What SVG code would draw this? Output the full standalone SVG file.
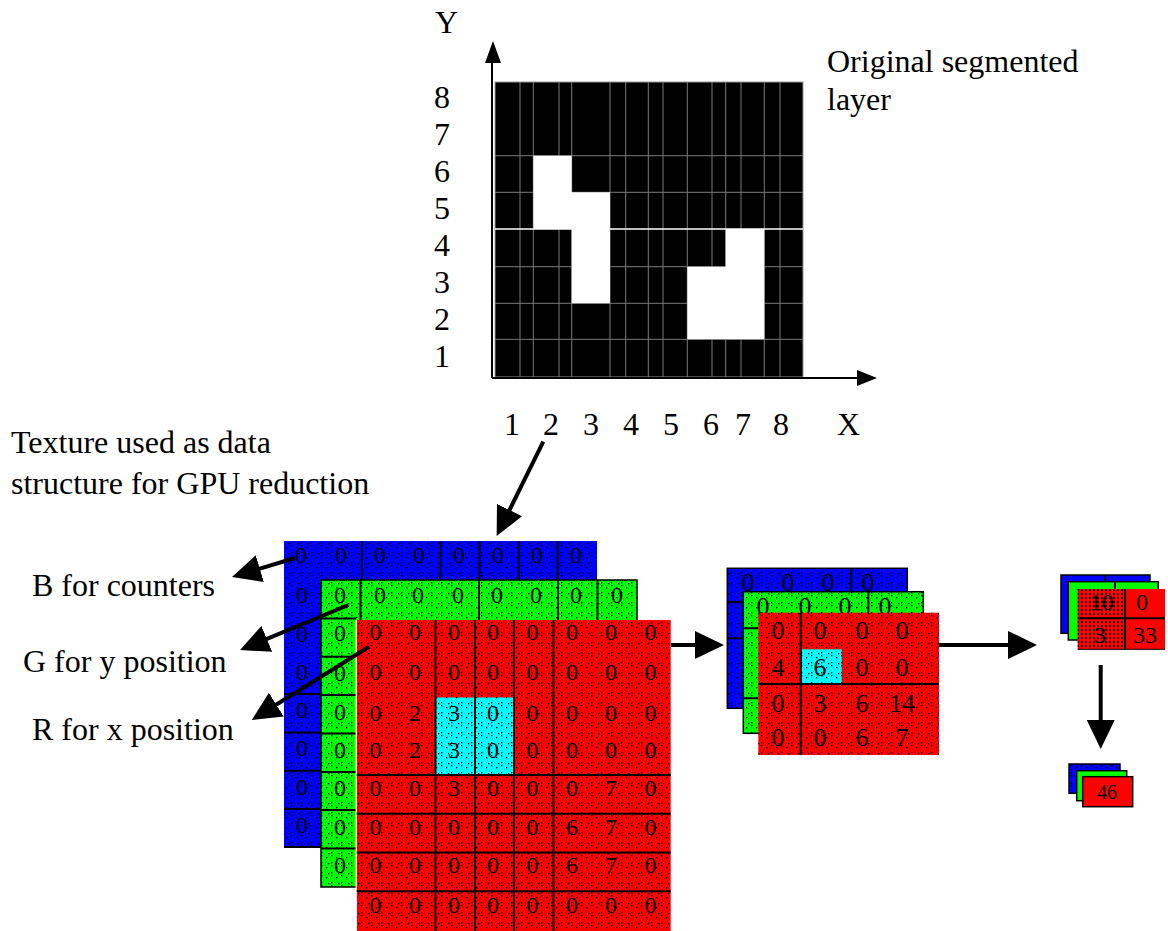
<svg xmlns="http://www.w3.org/2000/svg" width="1168" height="931" viewBox="0 0 1168 931">
<style>
.lbl{font-family:"Liberation Serif","Times New Roman",serif;font-size:32px;fill:#000}
.num{font-family:"Liberation Serif","Times New Roman",serif;font-size:24px;fill:#000;text-anchor:middle}
.numm{font-family:"Liberation Serif","Times New Roman",serif;font-size:26px;fill:#000;text-anchor:middle}
.nums{font-family:"Liberation Serif","Times New Roman",serif;font-size:20px;fill:#000;text-anchor:middle}
.gl{stroke:#7a7a7a;stroke-width:1;fill:none}
.grid{stroke:#000;stroke-width:2;fill:none}
.edge{stroke:#000;stroke-width:1.5}
.conn{stroke:#000;stroke-width:4;fill:none;marker-end:url(#ah)}
.axis{stroke:#000;stroke-width:2;fill:none}
.B{fill:#0000ff}.G{fill:#00ff00}.R{fill:#ff0000}.C{fill:#00ffff}
.tex{fill:url(#dots)}
</style>
<defs>
<pattern id="dots" width="10" height="10" patternUnits="userSpaceOnUse">
<rect x="1" y="2" width="1.3" height="1.3" fill="#000"/>
<rect x="1" y="5" width="1.3" height="1.3" fill="#000"/>
<rect x="6" y="7" width="1.3" height="1.3" fill="#000"/>
<rect x="8" y="3" width="1.3" height="1.3" fill="#000"/>
</pattern>
<pattern id="dense" width="4" height="4" patternUnits="userSpaceOnUse">
<rect x="1" y="1" width="2" height="2" fill="#000" opacity="0.8"/>
</pattern>
<marker id="ah" markerUnits="userSpaceOnUse" markerWidth="30" markerHeight="28" refX="5" refY="14" orient="auto">
<path d="M0,0 L29,14 L0,28 Z" fill="#000"/>
</marker>
</defs>
<rect width="1168" height="931" fill="#fff"/>

<g id="segmented-layer">
<rect x="495" y="82" width="308" height="295" fill="#000" stroke="#999" stroke-width="1"/>
<path class="gl" d="M520,82V377M533.3,82V377M559,82V377M571.7,82V377M610,82V377M625.7,82V377M648.3,82V377M663,82V377M687.3,82V377M712,82V377M725.7,82V377M741,82V377M764.3,82V377M780,82V377"/>
<path class="gl" d="M495,155.7H803M495,192.3H803M495,266.7H803M495,303.3H803M495,339.3H803"/>
<path d="M495,229H803" stroke="#fff" stroke-width="1.5"/>
<path d="M533.3,155.7H571.7V192.3H610V303.3H571.7V229H533.3Z" fill="#fff"/>
<path d="M725.7,229H764.3V339.3H687.3V266.7H725.7Z" fill="#fff"/>
</g>

<g id="axes">
<path class="axis" d="M492,378V60M492,378H860"/>
<path d="M493,41L485,63L501,63Z" fill="#000"/>
<path d="M877,378L857,370L857,386Z" fill="#000"/>
<text class="lbl" x="435" y="33">Y</text>
<text class="lbl" x="434" y="108">8</text>
<text class="lbl" x="434" y="145">7</text>
<text class="lbl" x="434" y="182">6</text>
<text class="lbl" x="434" y="219">5</text>
<text class="lbl" x="434" y="256">4</text>
<text class="lbl" x="434" y="293">3</text>
<text class="lbl" x="434" y="330">2</text>
<text class="lbl" x="434" y="367">1</text>
<text class="lbl" x="504" y="435">1</text>
<text class="lbl" x="543" y="435">2</text>
<text class="lbl" x="583" y="435">3</text>
<text class="lbl" x="623" y="435">4</text>
<text class="lbl" x="663" y="435">5</text>
<text class="lbl" x="703" y="435">6</text>
<text class="lbl" x="735" y="435">7</text>
<text class="lbl" x="773" y="435">8</text>
<text class="lbl" x="837" y="435">X</text>
</g>

<g id="labels">
<text class="lbl" x="827" y="72">Original segmented</text>
<text class="lbl" x="827" y="110">layer</text>
<text class="lbl" x="11" y="453">Texture used as data</text>
<text class="lbl" x="11" y="494">structure for GPU reduction</text>
<text class="lbl" x="32" y="596">B for counters</text>
<text class="lbl" x="23" y="672">G for y position</text>
<text class="lbl" x="32" y="740">R for x position</text>
</g>

<g id="texture-8x8">
<g id="blue-8x8">
<rect class="B" x="284" y="541" width="313" height="306"/>
<rect class="tex" x="284" y="541" width="313" height="306"/>
<path class="grid" d="M362,541V580M440.4,541V580M479.5,541V580M518.6,541V580M557.7,541V580M284,694H321M284,732.5H321M284,770.8H321M284,809H321M284,847H321"/>
<text class="num" x="301" y="563">0</text><text class="num" x="341" y="563">0</text><text class="num" x="380" y="563">0</text><text class="num" x="419" y="563">0</text><text class="num" x="459" y="563">0</text><text class="num" x="498" y="563">0</text><text class="num" x="537" y="563">0</text><text class="num" x="576" y="563">0</text>
<text class="num" x="302" y="603">0</text><text class="num" x="302" y="642">0</text><text class="num" x="302" y="680">0</text><text class="num" x="302" y="718">0</text><text class="num" x="302" y="756">0</text><text class="num" x="302" y="795">0</text><text class="num" x="302" y="833">0</text>
</g>
<g id="green-8x8">
<rect class="G edge" x="321" y="580" width="316" height="307"/>
<rect class="tex" x="321" y="580" width="316" height="307"/>
<path class="grid" d="M360.5,580V620M479,580V620M558,580V620M597.5,580V620M321,618.4H356M321,656.8H356M321,695H356M321,733.6H356M321,772H356M321,810H356M321,848.6H356"/>
<text class="num" x="340" y="603">0</text><text class="num" x="380" y="603">0</text><text class="num" x="418" y="603">0</text><text class="num" x="458" y="603">0</text><text class="num" x="497" y="603">0</text><text class="num" x="536" y="603">0</text><text class="num" x="576" y="603">0</text><text class="num" x="617" y="603">0</text>
<text class="num" x="340" y="641">0</text><text class="num" x="340" y="681">0</text><text class="num" x="340" y="720">0</text><text class="num" x="340" y="758">0</text><text class="num" x="340" y="796">0</text><text class="num" x="340" y="835">0</text><text class="num" x="340" y="873">0</text>
</g>
<g id="red-8x8">
<rect class="R" x="356.7" y="620" width="314" height="311"/>
<rect class="C" x="435.5" y="697.5" width="78" height="77.5"/>
<rect class="tex" x="356.7" y="620" width="314" height="311"/>
<path d="M356.2,620V931" stroke="#fff" stroke-width="1.2"/>
<path class="grid" d="M435.5,620V931M475,620V931M514,620V931M553.5,620V931M356.7,775H670.7M356.7,813.7H670.7M356.7,852.5H670.7M356.7,891.3H670.7"/>
<text class="num" x="375.5" y="640">0</text><text class="num" x="415" y="640">0</text><text class="num" x="454" y="640">0</text><text class="num" x="493" y="640">0</text><text class="num" x="532.5" y="640">0</text><text class="num" x="572" y="640">0</text><text class="num" x="611" y="640">0</text><text class="num" x="650.5" y="640">0</text>
<text class="num" x="375.5" y="680">0</text><text class="num" x="415" y="680">0</text><text class="num" x="454" y="680">0</text><text class="num" x="493" y="680">0</text><text class="num" x="532.5" y="680">0</text><text class="num" x="572" y="680">0</text><text class="num" x="611" y="680">0</text><text class="num" x="650.5" y="680">0</text>
<text class="num" x="375.5" y="721">0</text><text class="num" x="415" y="721">2</text><text class="num" x="454" y="721">3</text><text class="num" x="493" y="721">0</text><text class="num" x="532.5" y="721">0</text><text class="num" x="572" y="721">0</text><text class="num" x="611" y="721">0</text><text class="num" x="650.5" y="721">0</text>
<text class="num" x="375.5" y="758">0</text><text class="num" x="415" y="758">2</text><text class="num" x="454" y="758">3</text><text class="num" x="493" y="758">0</text><text class="num" x="532.5" y="758">0</text><text class="num" x="572" y="758">0</text><text class="num" x="611" y="758">0</text><text class="num" x="650.5" y="758">0</text>
<text class="num" x="375.5" y="796">0</text><text class="num" x="415" y="796">0</text><text class="num" x="454" y="796">3</text><text class="num" x="493" y="796">0</text><text class="num" x="532.5" y="796">0</text><text class="num" x="572" y="796">0</text><text class="num" x="611" y="796">7</text><text class="num" x="650.5" y="796">0</text>
<text class="num" x="375.5" y="835">0</text><text class="num" x="415" y="835">0</text><text class="num" x="454" y="835">0</text><text class="num" x="493" y="835">0</text><text class="num" x="532.5" y="835">0</text><text class="num" x="572" y="835">6</text><text class="num" x="611" y="835">7</text><text class="num" x="650.5" y="835">0</text>
<text class="num" x="375.5" y="873">0</text><text class="num" x="415" y="873">0</text><text class="num" x="454" y="873">0</text><text class="num" x="493" y="873">0</text><text class="num" x="532.5" y="873">0</text><text class="num" x="572" y="873">6</text><text class="num" x="611" y="873">7</text><text class="num" x="650.5" y="873">0</text>
<text class="num" x="375.5" y="913">0</text><text class="num" x="415" y="913">0</text><text class="num" x="454" y="913">0</text><text class="num" x="493" y="913">0</text><text class="num" x="532.5" y="913">0</text><text class="num" x="572" y="913">0</text><text class="num" x="611" y="913">0</text><text class="num" x="650.5" y="913">0</text>
</g>
</g>

<g id="texture-4x4">
<g id="blue-4x4">
<rect class="B edge" x="727.3" y="568.3" width="180" height="140"/>
<rect class="tex" x="727.3" y="568.3" width="180" height="140"/>
<path class="grid" d="M851,568.3V592M727.3,602H743.3M727.3,638.3H743.3"/>
<text class="numm" x="748" y="591">0</text><text class="numm" x="788" y="591">0</text><text class="numm" x="828" y="591">0</text><text class="numm" x="868" y="591">0</text>
</g>
<g id="green-4x4">
<rect class="G edge" x="743.3" y="591.7" width="180" height="141.6"/>
<rect class="tex" x="743.3" y="591.7" width="180" height="141.6"/>
<path class="grid" d="M868.3,591.7V613M743.3,628.3H758.3M743.3,698.3H758.3"/>
<text class="numm" x="763" y="615">0</text><text class="numm" x="805" y="615">0</text><text class="numm" x="845" y="615">0</text><text class="numm" x="885" y="615">0</text>
</g>
<g id="red-4x4">
<rect class="R" x="758.3" y="612.7" width="180.7" height="142.3"/>
<rect class="C" x="801.7" y="649.3" width="40" height="34"/>
<rect class="tex" x="758.3" y="612.7" width="180.7" height="142.3"/>
<path class="grid" d="M800.7,612.7V755M758.3,684H939"/>
<text class="numm" x="778" y="639">0</text><text class="numm" x="820" y="639">0</text><text class="numm" x="862" y="639">0</text><text class="numm" x="902" y="639">0</text>
<text class="numm" x="778" y="676">4</text><text class="numm" x="820" y="676">6</text><text class="numm" x="862" y="676">0</text><text class="numm" x="902" y="676">0</text>
<text class="numm" x="778" y="712">0</text><text class="numm" x="820" y="712">3</text><text class="numm" x="862" y="712">6</text><text class="numm" x="902" y="712">14</text>
<text class="numm" x="778" y="746">0</text><text class="numm" x="820" y="746">0</text><text class="numm" x="862" y="746">6</text><text class="numm" x="902" y="746">7</text>
</g>
</g>

<g id="texture-2x2">
<g id="blue-2x2">
<rect class="B edge" x="1061" y="575" width="89" height="58.3"/>
<path class="grid" d="M1105,575V582"/>
</g>
<g id="green-2x2">
<rect class="G edge" x="1068.3" y="581.7" width="90" height="58.3"/>
<path class="grid" d="M1115,581.7V589"/>
</g>
<g id="red-2x2">
<rect class="R" x="1077.7" y="589" width="87.3" height="60.3"/>
<rect x="1077.7" y="589" width="47.3" height="60.3" fill="url(#dense)"/>
<path class="grid" d="M1125,589V649.3M1077.7,618.3H1165"/>
<path d="M1077.7,649.3H1165" stroke="#000" stroke-width="1"/>
<text class="num" x="1101.7" y="610">10</text><text class="num" x="1142" y="610">0</text>
<text class="num" x="1100" y="643">3</text><text class="num" x="1145" y="643">33</text>
</g>
</g>

<g id="texture-1x1">
<rect class="B edge" x="1069" y="764" width="51" height="29.3"/>
<rect class="tex" x="1069" y="764" width="51" height="29.3"/>
<rect class="G edge" x="1076.7" y="770.7" width="50" height="30"/>
<rect class="R edge" x="1082.7" y="776.7" width="50" height="30"/>
<text class="nums" x="1107" y="799">46</text>
</g>

<g id="connectors">
<path class="conn" d="M543.3,441.7L507.3,514.5"/>
<path class="conn" d="M295,558L255,570.1"/>
<path class="conn" d="M348.3,605L262.2,640.8"/>
<path class="conn" d="M369,646.7L272.1,707.3"/>
<path class="conn" d="M671,645H700"/>
<path class="conn" d="M939,645H1013"/>
<path class="conn" d="M1100.7,665V725"/>
</g>
</svg>
